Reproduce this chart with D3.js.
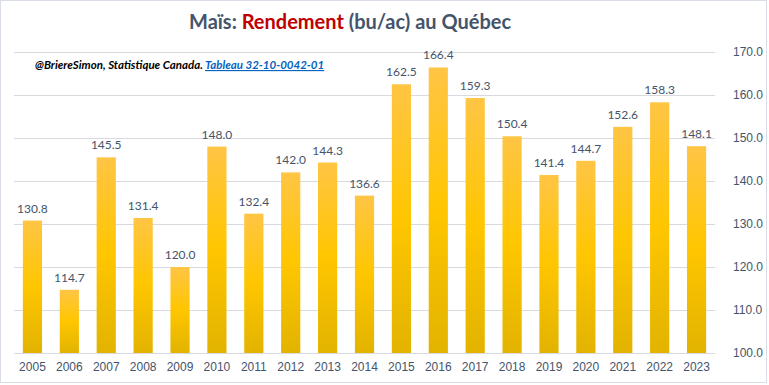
<!DOCTYPE html>
<html>
<head>
<meta charset="utf-8">
<script src="https://cdn.jsdelivr.net/npm/d3@7"></script>
<style>
  body { margin: 0; background: #fff; }
  svg { font-family: Lato, 'Open Sans', sans-serif; }
</style>
</head>
<body>
<svg id="chart"></svg>
<script>
const years = ['2005','2006','2007','2008','2009','2010','2011','2012','2013','2014','2015','2016','2017','2018','2019','2020','2021','2022','2023'];
const rendement = [130.8,114.7,145.5,131.4,120.0,148.0,132.4,142.0,144.3,136.6,162.5,166.4,159.3,150.4,141.4,144.7,152.6,158.3,148.1];
const yTicks = [100,110,120,130,140,150,160,170];

const W = 769, H = 385;
const margin = {top: 52, right: 54, bottom: 32, left: 14};
const width = W - margin.left - margin.right,
      height = H - margin.top - margin.bottom;

const svg = d3.select('#chart')
  .attr('width', W)
  .attr('height', H);

// gradient per bar
const grad = svg.append('defs').append('linearGradient')
  .attr('id', 'barGrad')
  .attr('x1', 0).attr('y1', 0).attr('x2', 0).attr('y2', 1);
grad.append('stop').attr('offset', '0%').attr('stop-color', '#FFC545');
grad.append('stop').attr('offset', '50%').attr('stop-color', '#FFC600');
grad.append('stop').attr('offset', '100%').attr('stop-color', '#E2B300');

// outer border
svg.append('rect')
  .attr('x', 0.5).attr('y', 0.5)
  .attr('width', 766).attr('height', 382)
  .attr('fill', 'none')
  .attr('stroke', '#D9DEE6');

const chart = svg.append('g')
  .attr('transform', `translate(${margin.left},${margin.top})`);

const x = d3.scaleBand()
  .domain(years)
  .range([0, width])
  .paddingInner(0.48)
  .paddingOuter(0.24);

const y = d3.scaleLinear()
  .domain([100, 170])
  .range([height, 0]);

// gridlines
chart.append('g')
  .selectAll('line')
  .data(yTicks)
  .enter().append('line')
  .attr('x1', 0).attr('x2', width)
  .attr('y1', d => Math.round(y(d)) + 0.5)
  .attr('y2', d => Math.round(y(d)) + 0.5)
  .attr('stroke', '#D9D9E0');

// right axis
const yAxis = chart.append('g')
  .attr('transform', `translate(${width + 15},0)`)
  .call(d3.axisRight(y).tickValues(yTicks).tickSize(0).tickFormat(d3.format('.1f')));
yAxis.select('.domain').remove();
yAxis.selectAll('text')
  .attr('fill', '#44546A')
  .attr('font-size', 12);

// bottom axis
const xAxis = chart.append('g')
  .attr('transform', `translate(0,${height})`)
  .call(d3.axisBottom(x).tickSize(0).tickPadding(9));
xAxis.select('.domain').remove();
xAxis.selectAll('text')
  .attr('fill', '#44546A')
  .attr('font-size', 12);

// bars
chart.selectAll('.bar')
  .data(rendement)
  .enter().append('rect')
  .attr('class', 'bar')
  .attr('x', (d, i) => x(years[i]))
  .attr('y', d => y(d))
  .attr('width', x.bandwidth())
  .attr('height', d => height - y(d))
  .attr('fill', 'url(#barGrad)');

// value labels
chart.selectAll('.val')
  .data(rendement)
  .enter().append('text')
  .attr('class', 'val')
  .attr('x', (d, i) => x(years[i]) + x.bandwidth() / 2)
  .attr('y', d => y(d) - 8)
  .attr('text-anchor', 'middle')
  .attr('font-size', 12)
  .attr('fill', '#44546A')
  .text(d => d3.format('.1f')(d));

// title
const title = svg.append('text')
  .attr('x', 189)
  .attr('y', 29)
  .attr('font-size', 20)
  .attr('font-weight', 'bold')
  .attr('fill', '#44546A');
title.append('tspan').text('Maïs: ');
title.append('tspan').attr('fill', '#C00000').text('Rendement');
title.append('tspan').text(' (bu/ac) au Québec');

// source line
const src = svg.append('text')
  .attr('x', 35)
  .attr('y', 69)
  .attr('font-size', 11.5)
  .attr('font-style', 'italic')
  .attr('font-weight', 'bold');
src.append('tspan').attr('fill', '#000').text('@BriereSimon, Statistique Canada. ');
src.append('tspan').attr('fill', '#0563C1').attr('text-decoration', 'underline').text('Tableau 32-10-0042-01');
</script>
</body>
</html>
